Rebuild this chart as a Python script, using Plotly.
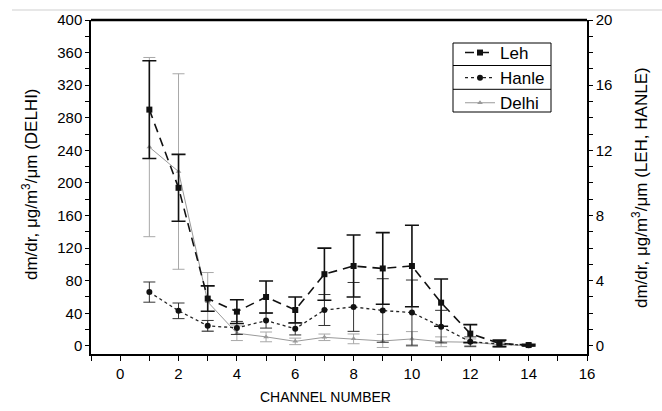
import plotly.graph_objects as go

channels = list(range(1, 15))

leh = [14.5, 9.7, 2.9, 2.1, 3.0, 2.2, 4.4, 4.9, 4.75, 4.9, 2.65, 0.75, 0.15, 0.05]
leh_err = [3.0, 2.05, 0.78, 0.73, 0.98, 0.8, 1.6, 1.9, 2.2, 2.5, 1.45, 0.55, 0.2, 0.05]

hanle = [3.3, 2.15, 1.23, 1.1, 1.55, 1.05, 2.2, 2.39, 2.17, 2.04, 1.18, 0.25, 0.12, 0.03]
hanle_err = [0.62, 0.48, 0.33, 0.4, 0.46, 0.38, 0.95, 1.5, 1.95, 2.0, 1.0, 0.3, 0.15, 0.03]

delhi = [244, 214, 54, 15.5, 11, 5.5, 10.5, 8.6, 6, 8.5, 5, 4.5, 1.5, 0.3]
delhi_err = [110, 120, 36, 9, 6, 4, 4, 6, 8, 9, 6, 4, 3, 1]

x_ticks = [0, 2, 4, 6, 8, 10, 12, 14, 16]
left_ticks = [0, 40, 80, 120, 160, 200, 240, 280, 320, 360, 400]
right_ticks = [0, 4, 8, 12, 16, 20]

FONT = "Arial, Liberation Sans, sans-serif"

fig = go.Figure()

fig.add_trace(go.Scatter(
    x=channels, y=delhi, name="Delhi", yaxis="y", legendrank=3,
    mode="lines+markers",
    line=dict(color="#9a9a9a", width=1),
    marker=dict(symbol="triangle-up", size=5, color="#9a9a9a"),
    error_y=dict(type="data", array=delhi_err, visible=True,
                 color="#a8a8a8", thickness=1, width=6),
))
fig.add_trace(go.Scatter(
    x=channels, y=hanle, name="Hanle", yaxis="y2", legendrank=2,
    mode="lines+markers",
    line=dict(color="#222222", width=1.3, dash="3px,3px"),
    marker=dict(symbol="circle", size=6, color="#111111"),
    error_y=dict(type="data", array=hanle_err, visible=True,
                 color="#333333", thickness=1, width=6),
))
fig.add_trace(go.Scatter(
    x=channels, y=leh, name="Leh", yaxis="y2", legendrank=1,
    mode="lines+markers",
    line=dict(color="#111111", width=1.6, dash="9px,6px"),
    marker=dict(symbol="square", size=6, color="#111111"),
    error_y=dict(type="data", array=leh_err, visible=True,
                 color="#111111", thickness=1.6, width=7),
))

ml, mr, mt, mb = 91, 75, 20, 57
W, H = 662, 411
pw, ph = W - ml - mr, H - mt - mb

def px_x(p):
    return (p - ml) / pw

def px_y(p):
    return (H - mb - p) / ph

shapes = [
    # thick top border
    dict(type="line", xref="paper", yref="paper", x0=0, x1=1, y0=1, y1=1,
         line=dict(color="black", width=2.5)),
    # faint page line at the very top
    dict(type="line", xref="paper", yref="paper", x0=px_x(12), x1=px_x(662),
         y0=px_y(10), y1=px_y(10), line=dict(color="#cfcfcf", width=1)),
    # legend frame and row dividers
    dict(type="rect", xref="paper", yref="paper", x0=px_x(453), x1=px_x(551),
         y0=px_y(43), y1=px_y(112), line=dict(color="black", width=1)),
    dict(type="line", xref="paper", yref="paper", x0=px_x(453), x1=px_x(551),
         y0=px_y(65.5), y1=px_y(65.5), line=dict(color="black", width=1)),
    dict(type="line", xref="paper", yref="paper", x0=px_x(453), x1=px_x(551),
         y0=px_y(89.3), y1=px_y(89.3), line=dict(color="black", width=1)),
]

annotations = [
    dict(text="dm/dr, μg/m<sup>3</sup>/μm (DELHI)", xref="paper", yref="paper",
         x=px_x(30), y=px_y(184), xanchor="center", yanchor="middle",
         textangle=-90, showarrow=False, font=dict(size=17)),
    dict(text="dm/dr, μg/m<sup>3</sup>/μm (LEH, HANLE)", xref="paper", yref="paper",
         x=px_x(640), y=px_y(188), xanchor="center", yanchor="middle",
         textangle=-90, showarrow=False, font=dict(size=17)),
    dict(text="CHANNEL NUMBER", xref="paper", yref="paper",
         x=px_x(325), y=px_y(397), xanchor="center", yanchor="middle",
         showarrow=False, font=dict(size=14)),
]

fig.update_layout(
    width=W, height=H,
    margin=dict(l=ml, r=mr, t=mt, b=mb, autoexpand=False),
    paper_bgcolor="white", plot_bgcolor="white",
    font=dict(family=FONT, color="black", size=15),
    showlegend=True,
    legend=dict(x=px_x(460), y=px_y(35), xanchor="left", yanchor="top",
                borderwidth=0, bgcolor="rgba(0,0,0,0)",
                font=dict(size=17, family=FONT), tracegroupgap=0,
                itemwidth=30),
    xaxis=dict(range=[-1, 16], tickvals=x_ticks, ticks="outside", ticklen=5,
               tickcolor="black", showline=True, linecolor="black", linewidth=1.5,
               showgrid=False, zeroline=False, automargin=False,
               minor=dict(dtick=1, tick0=0, ticks="outside", ticklen=5, tickcolor="black"),
               tickfont=dict(size=15)),
    yaxis=dict(range=[-10, 400], tickvals=left_ticks, ticks="outside", ticklen=4,
               tickcolor="black", showline=True, linecolor="black", linewidth=1.5,
               showgrid=False, zeroline=False, automargin=False,
               minor=dict(dtick=20, tick0=0, ticks="outside", ticklen=4, tickcolor="black"),
               tickfont=dict(size=15)),
    yaxis2=dict(range=[-0.5, 20], tickvals=right_ticks, overlaying="y", side="right",
                ticks="outside", ticklen=4, tickcolor="black",
                showline=True, linecolor="black", linewidth=1.5,
                showgrid=False, zeroline=False, automargin=False,
                minor=dict(dtick=1, tick0=0, ticks="outside", ticklen=4, tickcolor="black"),
                tickfont=dict(size=15)),
    shapes=shapes,
    annotations=annotations,
)

fig.write_html("out.html", config={"displayModeBar": False},
               post_script="document.body.style.margin='0';document.body.style.padding='0';")
